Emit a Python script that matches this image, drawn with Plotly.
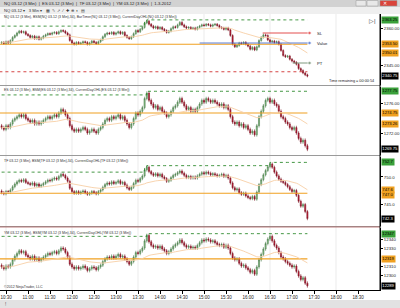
import numpy as np
import pandas as pd
import plotly.graph_objects as go
from plotly.subplots import make_subplots

# ---------------- data ----------------
SESSION_DAY = "2012-01-03"
FIRST_BAR = "10:24"
BAR_MINUTES = 3

NQ_CLOSE = [2354.25, 2353.75, 2354.5, 2354.0, 2355.0, 2356.25, 2357.0, 2358.0, 2358.75, 2358.25,
            2358.5, 2357.5, 2357.0, 2356.25, 2356.75, 2355.75, 2356.5, 2355.5, 2356.0, 2356.75,
            2357.25, 2357.75, 2357.5, 2358.0, 2358.25, 2357.75, 2358.5, 2359.0, 2358.75, 2358.0,
            2357.25, 2355.0, 2354.0, 2353.5, 2354.25, 2353.75, 2354.0, 2354.5, 2354.25, 2353.5,
            2354.0, 2354.75, 2354.25, 2353.75, 2354.5, 2355.25, 2356.5, 2357.5, 2358.0, 2357.75,
            2358.25, 2357.5, 2358.0, 2358.5, 2357.75, 2358.25, 2357.0, 2356.25, 2355.75, 2356.5,
            2357.75, 2359.0, 2358.5, 2359.5, 2360.25, 2362.0, 2362.75, 2361.5, 2360.75, 2360.0,
            2360.5, 2359.75, 2360.25, 2359.5, 2359.0, 2358.25, 2358.75, 2359.75, 2360.5, 2360.25,
            2361.25, 2362.25, 2361.25, 2360.5, 2360.0, 2360.25, 2359.75, 2360.0, 2359.5, 2360.25,
            2360.75, 2361.25, 2361.0, 2361.5, 2361.25, 2360.75, 2361.25, 2361.5, 2361.0, 2360.25,
            2360.0, 2359.5, 2360.0, 2359.25, 2357.0, 2353.5, 2352.5, 2353.0, 2354.0, 2353.75,
            2354.25, 2353.5, 2352.75, 2351.5, 2352.25, 2351.25, 2352.5, 2355.0, 2356.25, 2357.25,
            2357.0, 2355.25, 2354.5, 2354.75, 2354.25, 2354.5, 2353.5, 2351.0, 2349.0, 2348.5,
            2348.75, 2347.5, 2346.75, 2346.25, 2345.5, 2343.75, 2343.0, 2342.0, 2341.25, 2340.75]

ES_CLOSE = [1272.75, 1272.5, 1273.0, 1272.75, 1273.25, 1273.75, 1274.0, 1274.25, 1274.5, 1274.25,
            1274.5, 1274.0, 1273.75, 1273.5, 1273.75, 1273.25, 1273.5, 1273.25, 1273.5, 1273.75,
            1274.0, 1274.25, 1274.0, 1274.25, 1274.5, 1274.25, 1274.75, 1275.25, 1275.0, 1274.5,
            1274.0, 1273.0, 1272.5, 1272.25, 1272.5, 1272.25, 1272.5, 1272.75, 1272.5, 1272.0,
            1272.25, 1272.5, 1272.25, 1272.0, 1272.5, 1272.75, 1273.25, 1273.75, 1274.0, 1273.75,
            1274.25, 1274.0, 1274.25, 1274.5, 1274.0, 1274.25, 1273.75, 1273.25, 1272.75, 1273.25,
            1274.0, 1274.75, 1274.5, 1275.0, 1275.5, 1276.75, 1277.5, 1276.5, 1276.0, 1275.5,
            1275.75, 1275.25, 1275.5, 1275.0, 1274.75, 1274.25, 1274.5, 1275.0, 1275.5, 1275.75,
            1276.25, 1276.75, 1276.25, 1275.75, 1275.25, 1275.5, 1275.0, 1275.25, 1275.0, 1275.5,
            1276.0, 1276.5, 1276.25, 1276.75, 1276.5, 1276.25, 1276.5, 1276.25, 1276.0, 1275.75,
            1276.0, 1275.5, 1275.75, 1275.25, 1274.25, 1273.5, 1273.25, 1273.5, 1273.0, 1273.25,
            1272.75, 1273.0, 1272.5, 1272.0, 1272.25, 1271.75, 1273.0, 1274.25, 1275.0, 1275.75,
            1276.5, 1276.75, 1276.25, 1276.5, 1276.0, 1275.75, 1275.0, 1274.25, 1274.0, 1273.5,
            1273.25, 1272.75, 1272.5, 1272.75, 1272.0, 1271.25, 1270.75, 1271.0, 1270.25, 1269.75]

TF_CLOSE = [747.1, 746.9, 747.3, 747.2, 747.6, 748.2, 748.7, 749.1, 749.4, 749.2,
            749.5, 749.0, 748.8, 748.6, 748.9, 748.4, 748.7, 748.3, 748.5, 748.8,
            749.1, 749.4, 749.3, 749.6, 749.8, 749.6, 750.1, 750.5, 750.3, 749.8,
            749.2, 747.9, 747.3, 747.0, 747.3, 747.0, 747.2, 747.4, 747.1, 746.8,
            747.0, 747.3, 747.1, 746.9, 747.3, 747.6, 748.1, 748.6, 748.9, 748.7,
            749.1, 748.8, 749.0, 749.3, 748.8, 749.0, 748.5, 748.0, 747.7, 748.1,
            748.8, 749.4, 749.2, 749.7, 750.2, 751.3, 751.8, 751.0, 750.6, 750.3,
            750.6, 750.2, 750.5, 750.0, 749.7, 749.2, 749.4, 749.9, 750.3, 750.5,
            750.8, 751.1, 750.7, 750.3, 749.9, 750.1, 749.8, 750.0, 749.8, 750.2,
            750.5, 750.8, 750.6, 750.9, 750.7, 750.4, 750.6, 750.4, 750.2, 750.3,
            750.5, 750.1, 750.3, 749.8, 748.9, 748.0, 747.6, 747.8, 747.1, 746.8,
            747.0, 746.5, 746.2, 746.0, 746.4, 745.9, 747.2, 748.6, 749.5, 750.4,
            751.2, 751.9, 752.4, 751.8, 750.9, 750.2, 749.6, 749.2, 749.0, 748.6,
            748.2, 747.7, 747.3, 747.5, 746.6, 745.5, 744.6, 744.9, 743.6, 742.3]

YM_CLOSE = [12310, 12308, 12311, 12310, 12313, 12318, 12322, 12325, 12328, 12326,
            12327, 12323, 12321, 12319, 12322, 12318, 12320, 12317, 12319, 12321,
            12323, 12325, 12324, 12326, 12327, 12325, 12328, 12331, 12330, 12326,
            12321, 12313, 12310, 12308, 12310, 12308, 12309, 12311, 12309, 12306,
            12308, 12310, 12309, 12307, 12310, 12312, 12316, 12319, 12321, 12320,
            12322, 12320, 12322, 12324, 12321, 12322, 12319, 12316, 12313, 12316,
            12321, 12326, 12325, 12328, 12331, 12339, 12345, 12338, 12334, 12332,
            12333, 12331, 12333, 12330, 12328, 12325, 12327, 12330, 12333, 12335,
            12337, 12340, 12337, 12334, 12332, 12333, 12331, 12332, 12331, 12334,
            12337, 12340, 12339, 12341, 12340, 12338, 12339, 12337, 12335, 12334,
            12335, 12332, 12334, 12331, 12325, 12320, 12318, 12319, 12314, 12311,
            12312, 12309, 12307, 12304, 12306, 12302, 12310, 12318, 12324, 12330,
            12336, 12341, 12344, 12339, 12334, 12331, 12326, 12321, 12319, 12316,
            12314, 12312, 12310, 12311, 12305, 12300, 12296, 12298, 12292, 12289]

SYMBOLS = ["NQ 03-12", "ES 03-12", "TF 03-12", "YM 03-12"]
CLOSES = [NQ_CLOSE, ES_CLOSE, TF_CLOSE, YM_CLOSE]
FIRST_OPEN = [2354.0, 1273.0, 747.4, 12312]
OPEN_LEVEL = [2353.5, 1274.75, 747.0, 12319]
PRIOR_HIGH = [2360.75, 1277.25, 750.9, 12344]
WICK = [0.5, 0.25, 0.3, 2]
NQ_LOW_LEVEL = 2342.5
Y_RANGES = [[2337.2, 2365.6], [1268.97, 1278.34], [740.93, 753.70], [12284.4, 12353.3]]
Y_DTICK = [5, 2, 5, 10]
Y_FMT = [".2f", ".2f", ".1f", ".0f"]
SHOW_EMA_BOX = [True, True, True, False]
EMA_SPAN = 34

# chart drawings on NQ panel: (label, price, start, end, colour)
DRAWINGS = [("SL", 2358.0, "16:20", "17:24", "#e03a3a"),
            ("Value", 2354.0, "14:54", "17:24", "#4a6fd0"),
            ("PT", 2346.0, "17:01", "17:24", "#6f8f6f")]
LABEL_TIME = "17:31"

X_RANGE = ["10:21:49", "19:00"]
TICK_FIRST, TICK_LAST = "10:30", "18:30"
GRID_TIMES = ["10:30", "12:00", "13:30", "15:00", "16:30", "18:00"]

# ---------------- layout helpers ----------------
W, H = 400, 308
ML, MR, MT, MB = 0, 20, 14, 18
PH = H - MT - MB
PW = W - ML - MR
FONT = "Arial, 'Liberation Sans', sans-serif"


def py(ypx):
    return (H - MB - ypx) / PH


def pxx(xpx):
    return xpx / PW


def t(hm):
    return pd.Timestamp(f"{SESSION_DAY} {hm}")


PANELS_PX = [(14, 85), (87, 155), (157, 226), (228, 290)]
TITLE_PX = [17.5, 89.5, 161, 233]
BOX_H = 5.5

times = pd.date_range(t(FIRST_BAR), periods=len(NQ_CLOSE), freq=f"{BAR_MINUTES}min")

fig = make_subplots(rows=4, cols=1, shared_xaxes=True, vertical_spacing=0.01)

annotations = []
shapes = []

for k in range(4):
    r = k + 1
    c = np.array(CLOSES[k], float)
    o = np.concatenate([[FIRST_OPEN[k]], c[:-1]])
    h = np.maximum(o, c) + WICK[k]
    l = np.minimum(o, c) - WICK[k]
    ema = pd.Series(c).ewm(span=EMA_SPAN, adjust=False).mean().values
    dayhigh = np.maximum.accumulate(np.maximum(h, PRIOR_HIGH[k]))

    fig.add_trace(go.Scatter(x=[times[0] - pd.Timedelta(minutes=3), times[-1]], y=[OPEN_LEVEL[k]] * 2,
                             mode="lines", line=dict(color="#f0a020", width=1.1)), row=r, col=1)
    fig.add_trace(go.Scatter(x=times, y=ema, mode="lines",
                             line=dict(color="#f7cfa6", width=0.9)), row=r, col=1)
    fig.add_trace(go.Scatter(x=list(times), y=dayhigh, mode="lines",
                             line=dict(color="#2d8a2d", width=0.9, dash="dot", shape="hv")), row=r, col=1)
    if k == 0:
        fig.add_trace(go.Scatter(x=[times[0] - pd.Timedelta(minutes=3), times[-1]], y=[NQ_LOW_LEVEL] * 2,
                                 mode="lines", line=dict(color="#d03030", width=0.9, dash="dot")), row=r, col=1)
        for name, lvl, t0, t1, col in DRAWINGS:
            fig.add_trace(go.Scatter(x=[t(t0), t(t1)], y=[lvl, lvl], mode="lines+markers",
                                     line=dict(color=col, width=0.9),
                                     marker=dict(size=[0, 3.5], color=col, symbol="circle")), row=r, col=1)
            annotations.append(dict(x=t(LABEL_TIME), y=lvl, xref="x", yref="y", text=name,
                                    showarrow=False, xanchor="left", yanchor="middle",
                                    font=dict(size=4.2, color="#222")))
    fig.add_trace(go.Candlestick(x=times, open=o, high=h, low=l, close=c,
                                 increasing=dict(line=dict(color="#4a7a4a", width=0.6), fillcolor="#88c888"),
                                 decreasing=dict(line=dict(color="#7a1020", width=0.6), fillcolor="#c81a36"),
                                 whiskerwidth=0), row=r, col=1)

    # right-hand price boxes, pushed apart when they would collide
    y0, y1 = PANELS_PX[k]
    lo, hi = Y_RANGES[k]
    ppu = (y1 - y0) / (hi - lo)

    def to_px(v):
        return y0 + (hi - v) * ppu

    boxes = [(dayhigh[-1], "#3aa03a", "#000"), (OPEN_LEVEL[k], "#f0a020", "#000")]
    if SHOW_EMA_BOX[k]:
        boxes.append((ema[-1], "#f0a020", "#000"))
    boxes.append((c[-1], "#000000", "#fff"))
    placed = []
    for val, bg, fg in sorted(boxes, key=lambda b: -b[0]):
        ypix = to_px(val)
        if placed and ypix - placed[-1] < BOX_H:
            ypix = placed[-1] + BOX_H
        placed.append(ypix)
        annotations.append(dict(x=1, xref="paper", y=py(ypix), yref="paper", text=format(val, Y_FMT[k]),
                                showarrow=False, xanchor="left", yanchor="middle", xshift=1, bgcolor=bg,
                                font=dict(size=4.2, color=fg), borderpad=0.3))
    dt = Y_DTICK[k]
    ticks = np.arange(np.ceil(lo / dt) * dt, hi, dt)
    ticks = [v for v in ticks if all(abs(to_px(v) - p) > BOX_H for p in placed)]

    sym = SYMBOLS[k]
    title = f"{sym} (3 Min), BSM({sym} (3 Min),{EMA_SPAN}), " + \
            (f"BarTimer({sym} (3 Min)), " if k == 0 else "") + f"CurrentDayOHL({sym} (3 Min))"
    annotations.append(dict(x=0.004, xref="paper", y=py(TITLE_PX[k]), yref="paper", text=title,
                            showarrow=False, xanchor="left", yanchor="middle",
                            font=dict(size=3.5, color="#333")))

    fig.update_yaxes(row=r, col=1, domain=[py(y1), py(y0)], range=Y_RANGES[k], side="right",
                     tickvals=ticks, tickformat=Y_FMT[k], ticks="outside", ticklen=2,
                     tickcolor="#000", tickfont=dict(size=4.3, color="#222"), showgrid=False,
                     zeroline=False, showline=True, linecolor="#000", linewidth=1)

tick_vals = pd.date_range(t(TICK_FIRST), t(TICK_LAST), freq="30min")
fig.update_xaxes(range=[t(X_RANGE[0]), t(X_RANGE[1])], rangeslider_visible=False, showgrid=False,
                 zeroline=False, showline=True, linecolor="#9a9a9a", linewidth=0.8)
fig.update_xaxes(row=4, col=1, tickvals=list(tick_vals), tickformat="%H:%M", ticks="outside",
                 ticklen=3, tickcolor="#000", tickfont=dict(size=4.5, color="#222"),
                 linecolor="#000", showticklabels=True)
for r in (1, 2, 3):
    fig.update_xaxes(row=r, col=1, showticklabels=False, ticks="")

for g in GRID_TIMES:
    shapes.append(dict(type="line", xref="x", yref="paper", x0=t(g), x1=t(g), y0=0, y1=1,
                       line=dict(color="#e6e6e6", width=0.8), layer="below"))

shapes.append(dict(type="line", xref="paper", yref="paper", x0=0, x1=1, y0=py(227), y1=py(227),
                   line=dict(color="#b06060", width=0.8)))
shapes.append(dict(type="line", xref="paper", yref="paper", x0=1, x1=1, y0=0, y1=1,
                   line=dict(color="#000", width=1)))

# window chrome: tab strip, toolbar, status bar
shapes.append(dict(type="rect", xref="paper", yref="paper", x0=0, x1=pxx(W), y0=py(7), y1=py(0),
                   fillcolor="#d2d2d2", line=dict(width=0)))
shapes.append(dict(type="rect", xref="paper", yref="paper", x0=0, x1=pxx(W), y0=py(14), y1=py(7),
                   fillcolor="#efefef", line=dict(width=0)))
shapes.append(dict(type="rect", xref="paper", yref="paper", x0=0, x1=pxx(W), y0=py(308), y1=py(300),
                   fillcolor="#e2e2e2", line=dict(width=0)))
for xa, xb, col in [(356, 366, "#e8e8e8"), (367, 378, "#e8e8e8"), (380, 397, "#d9443a")]:
    shapes.append(dict(type="rect", xref="paper", yref="paper", x0=pxx(xa), x1=pxx(xb),
                       y0=py(6), y1=py(0.5), fillcolor=col, line=dict(color="#999", width=0.5)))

annotations += [
    dict(x=0.004, xref="paper", y=py(3.3), yref="paper", showarrow=False, xanchor="left", yanchor="middle",
         text="NQ 03-12 (3 Min)  |  ES 03-12 (3 Min)  |  TF 03-12 (3 Min)  |  YM 03-12 (3 Min)  |  1-3-2012",
         font=dict(size=4.2, color="#222")),
    dict(x=0.004, xref="paper", y=py(10.5), yref="paper", showarrow=False, xanchor="left", yanchor="middle",
         text="NQ 03-12 ▾   3 Min ▾   ▦  ✎  ↗  ⁄  ✚  ⊕  ◐  ▤", font=dict(size=4.2, color="#333")),
    dict(x=pxx(388.5), xref="paper", y=py(3.3), yref="paper", showarrow=False, yanchor="middle",
         text="✕", font=dict(size=4.5, color="#fff")),
    dict(x=pxx(378), xref="paper", y=py(21), yref="paper", showarrow=False, xanchor="right", yanchor="middle",
         text="▷|", font=dict(size=6, color="#444")),
    dict(x=1, xref="paper", y=py(81), yref="paper", showarrow=False, xanchor="right", yanchor="middle",
         xshift=-4, text="Time remaining = 00:00:54", font=dict(size=3.8, color="#222")),
    dict(x=0.004, xref="paper", y=py(286.5), yref="paper", showarrow=False, xanchor="left", yanchor="middle",
         text="©2012 NinjaTrader, LLC", font=dict(size=3.6, color="#333")),
    dict(x=pxx(3), xref="paper", y=py(304), yref="paper", showarrow=False, xanchor="left", yanchor="middle",
         text="!", font=dict(size=4.5, color="#444")),
]

fig.update_layout(width=W, height=H, margin=dict(l=ML, r=MR, t=MT, b=MB),
                  paper_bgcolor="#ffffff", plot_bgcolor="#ffffff", showlegend=False,
                  font=dict(family=FONT), annotations=annotations, shapes=shapes)

fig.write_html("out.html")
